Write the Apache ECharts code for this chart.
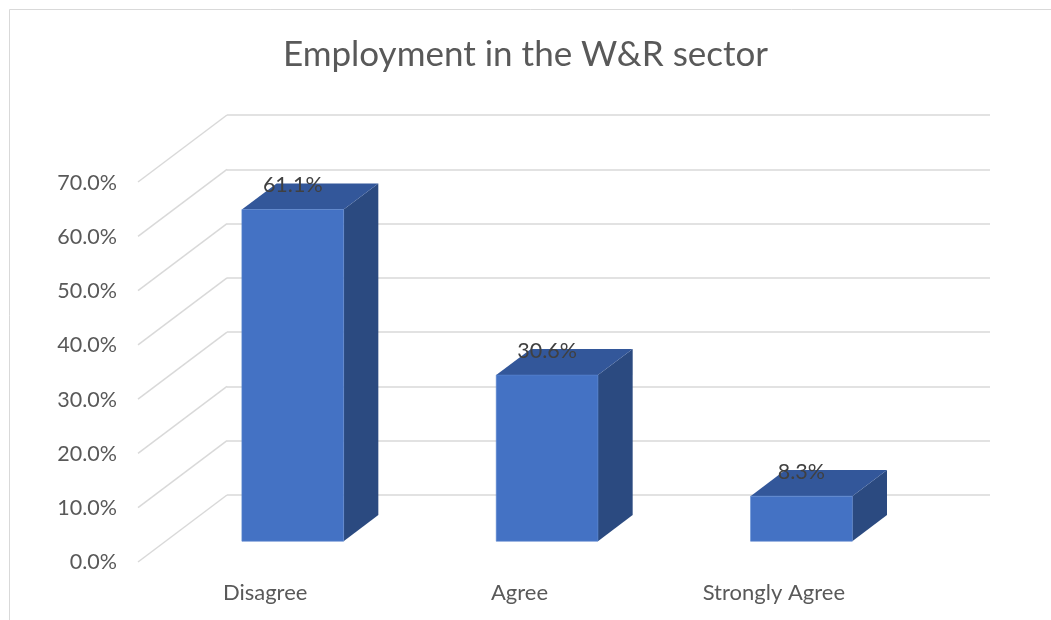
<!DOCTYPE html>
<html>
<head>
<meta charset="utf-8">
<script src="https://cdn.jsdelivr.net/npm/echarts@6/dist/echarts.min.js"></script>
<style>
  html, body { margin: 0; padding: 0; background: #ffffff; }
  #chart { width: 1051px; height: 620px; }
</style>
</head>
<body>
<div id="chart"></div>
<script>
// Chart data
const categories = ['Disagree', 'Agree', 'Strongly Agree'];
const values = [61.1, 30.6, 8.3];
const yTicks = [0, 10, 20, 30, 40, 50, 60, 70];

// 3D look: vector from the back wall to the front edge of the floor,
// and where the columns sit inside that depth (0 = back, 1 = front).
const DEPTH_DX = -89;
const DEPTH_DY = 67;
const BAR_FAR = 0.30;
const BAR_NEAR = 0.69;
const BAR_WIDTH = 0.40;

const FRONT = '#4472C4';
const TOP = '#33579A';
const SIDE = '#2B4A80';
const GRID_LINE = '#d9d9d9';
const TEXT = '#595959';
const FONT = 'Lato, "Open Sans", sans-serif';

const chart = echarts.init(document.getElementById('chart'), null, { renderer: 'canvas' });

function renderWallLines(params, api) {
  const cs = params.coordSys;
  const y = api.coord([0, api.value(1)])[1];
  return {
    type: 'line',
    shape: { x1: cs.x, y1: y, x2: cs.x + DEPTH_DX, y2: y + DEPTH_DY },
    style: { stroke: GRID_LINE, lineWidth: 1.5 },
    silent: true
  };
}

function renderColumn(params, api) {
  const i = api.value(0);
  const v = api.value(1);
  const base = api.coord([i, 0]);
  const top = api.coord([i, v]);
  const bw = api.size([1, 0])[0] * BAR_WIDTH;
  const left = base[0] - bw / 2;
  const nx = DEPTH_DX * BAR_NEAR, ny = DEPTH_DY * BAR_NEAR;
  const fx = DEPTH_DX * BAR_FAR, fy = DEPTH_DY * BAR_FAR;

  // front face corners
  const fL = left + nx, fR = left + bw + nx;
  const fT = top[1] + ny, fB = base[1] + ny;
  // back face corners
  const bL = left + fx, bR = left + bw + fx;
  const bT = top[1] + fy, bB = base[1] + fy;

  return {
    type: 'group',
    children: [
      {
        type: 'polygon',
        shape: { points: [[fR, fT], [bR, bT], [bR, bB], [fR, fB]] },
        style: { fill: SIDE }
      },
      {
        type: 'polygon',
        shape: { points: [[fL, fT], [fR, fT], [bR, bT], [bL, bT]] },
        style: { fill: TOP }
      },
      {
        type: 'rect',
        shape: { x: fL, y: fT, width: fR - fL, height: fB - fT },
        style: { fill: FRONT, stroke: '#5a86d0', lineWidth: 0.6 }
      },
      {
        type: 'text',
        x: (fL + fR) / 2,
        y: bT + 2,
        style: {
          text: v.toFixed(1) + '%',
          fill: '#404040',
          font: '21.5px ' + FONT,
          align: 'center',
          verticalAlign: 'middle'
        }
      }
    ]
  };
}

const option = {
  backgroundColor: '#ffffff',
  animation: false,
  title: {
    text: 'Employment in the W&R sector',
    left: 'center',
    top: 32,
    textStyle: { color: TEXT, fontSize: 35, fontWeight: 'normal', fontFamily: FONT }
  },
  graphic: [
    {
      type: 'rect',
      shape: { x: 9.5, y: 9.5, width: 1100, height: 700 },
      style: { fill: 'none', stroke: '#d9d9d9', lineWidth: 1 },
      silent: true
    }
  ],
  grid: [
    // front edge of the floor: carries the axis labels
    { left: 138, right: 150, top: 183, bottom: 58 },
    // back wall: carries the horizontal gridlines and the columns
    { left: 227, right: 61, top: 115, bottom: 125 }
  ],
  xAxis: [
    {
      gridIndex: 0,
      type: 'category',
      data: categories,
      axisLine: { show: false },
      axisTick: { show: false },
      axisLabel: { color: TEXT, fontSize: 22, fontFamily: FONT, margin: 20 }
    },
    {
      gridIndex: 1,
      type: 'category',
      data: categories,
      axisLine: { show: false },
      axisTick: { show: false },
      axisLabel: { show: false }
    }
  ],
  yAxis: [
    {
      gridIndex: 0,
      type: 'value',
      min: 0,
      max: 70,
      interval: 10,
      splitLine: { show: false },
      axisLine: { show: false },
      axisTick: { show: false },
      axisLabel: {
        color: TEXT, fontSize: 21.5, fontFamily: FONT, margin: 21,
        formatter: v => v.toFixed(1) + '%'
      }
    },
    {
      gridIndex: 1,
      type: 'value',
      min: 0,
      max: 70,
      interval: 10,
      splitLine: { show: true, lineStyle: { color: GRID_LINE, width: 1.5 } },
      axisLine: { show: false },
      axisTick: { show: false },
      axisLabel: { show: false }
    }
  ],
  series: [
    {
      name: 'side wall',
      type: 'custom',
      xAxisIndex: 1,
      yAxisIndex: 1,
      renderItem: renderWallLines,
      data: yTicks.map(t => [0, t]),
      silent: true,
      z: 1
    },
    {
      name: 'Employment',
      type: 'custom',
      xAxisIndex: 1,
      yAxisIndex: 1,
      renderItem: renderColumn,
      data: values.map((v, i) => [i, v]),
      z: 3
    }
  ]
};

chart.setOption(option);
</script>
</body>
</html>
